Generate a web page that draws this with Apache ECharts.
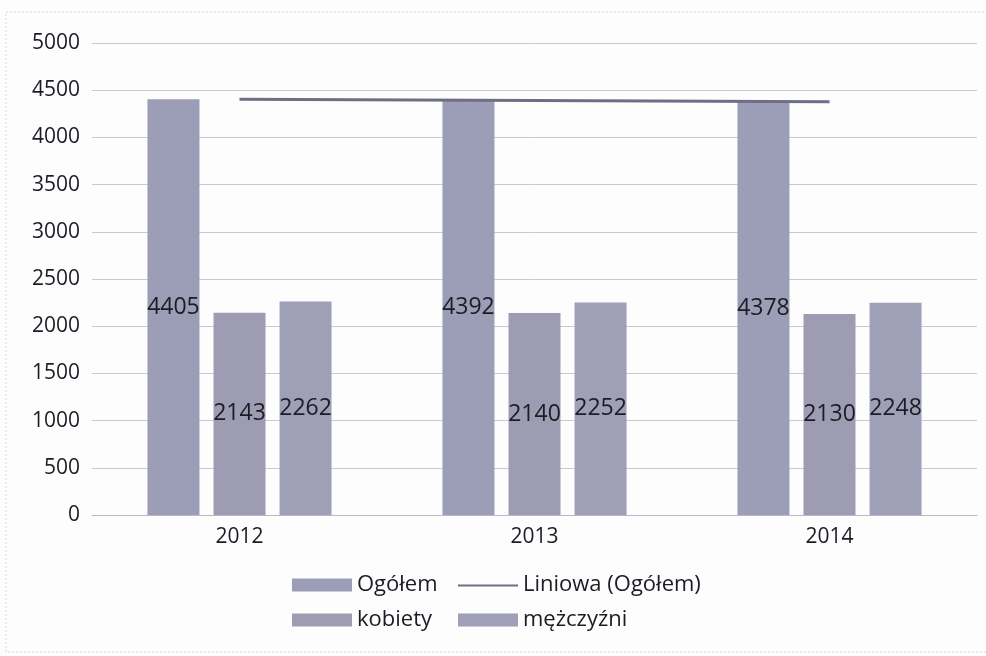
<!DOCTYPE html>
<html>
<head>
<meta charset="utf-8">
<script src="https://cdn.jsdelivr.net/npm/echarts@6/dist/echarts.min.js"></script>
<style>
  html, body { margin: 0; padding: 0; background: #fff; }
  #chart { width: 986px; height: 656px; }
</style>
</head>
<body>
<div id="chart"></div>
<script>
// dane z wykresu
const years = ['2012', '2013', '2014'];
const ogolem = [4405, 4392, 4378];
const kobiety = [2143, 2140, 2130];
const mezczyzni = [2262, 2252, 2248];
// linia trendu (Liniowa)
const liniowa = [4405, 4392, 4378];

const barColor = '#9d9cb3';
const lineColor = '#6e6e86';
const textColor = '#1c1c24';
const font = 'Open Sans';

const labelStyle = {
  show: true,
  position: 'inside',
  color: textColor,
  fontFamily: font,
  fontSize: 23
};

const chart = echarts.init(document.getElementById('chart'));
chart.setOption({
  animation: false,
  backgroundColor: '#fdfdfe',
  graphic: [{
    type: 'rect',
    shape: { x: 6, y: 12, width: 990, height: 640 },
    style: { fill: 'none', stroke: '#d4d4dc', lineWidth: 1, lineDash: [2, 2] },
    silent: true
  }],
  grid: { left: 92, right: 9, top: 43, bottom: 141 },
  legend: [
    {
      left: 287, top: 569, orient: 'vertical', itemGap: 13,
      itemWidth: 60, itemHeight: 13, icon: 'rect',
      textStyle: { fontFamily: font, fontSize: 22, color: textColor },
      data: ['Ogółem', 'kobiety']
    },
    {
      left: 453, top: 569, orient: 'vertical', itemGap: 13,
      itemWidth: 60, itemHeight: 13,
      textStyle: { fontFamily: font, fontSize: 22, color: textColor },
      data: [
        {
          name: 'Liniowa (Ogółem)',
          icon: 'path://M0,0L0,0M0,6H60V8H0ZM60,13L60,13',
          itemStyle: { color: lineColor, borderWidth: 0 }
        },
        { name: 'mężczyźni', icon: 'rect' }
      ]
    }
  ],
  xAxis: {
    type: 'category',
    data: years,
    axisLine: { lineStyle: { color: '#b8b8c8' } },
    axisTick: { show: false },
    axisLabel: { color: textColor, fontFamily: font, fontSize: 21, margin: 12 }
  },
  yAxis: {
    type: 'value',
    min: 0, max: 5000, interval: 500,
    axisLine: { show: false },
    axisTick: { show: false },
    axisLabel: { color: textColor, fontFamily: font, fontSize: 21, margin: 12, formatter: v => String(v) },
    splitLine: { lineStyle: { color: '#c8c8d6' } }
  },
  series: [
    {
      name: 'Ogółem', type: 'bar', data: ogolem,
      barWidth: 52, barGap: '27%',
      itemStyle: { color: '#9c9db6' },
      label: labelStyle
    },
    {
      name: 'kobiety', type: 'bar', data: kobiety,
      barWidth: 52,
      itemStyle: { color: barColor },
      label: labelStyle
    },
    {
      name: 'mężczyźni', type: 'bar', data: mezczyzni,
      barWidth: 52,
      itemStyle: { color: '#a09fb8' },
      label: labelStyle
    },
    {
      name: 'Liniowa (Ogółem)', type: 'line', data: liniowa,
      symbol: 'none',
      lineStyle: { color: lineColor, width: 3 },
      itemStyle: { color: lineColor },
      z: 5
    }
  ]
});
</script>
</body>
</html>
